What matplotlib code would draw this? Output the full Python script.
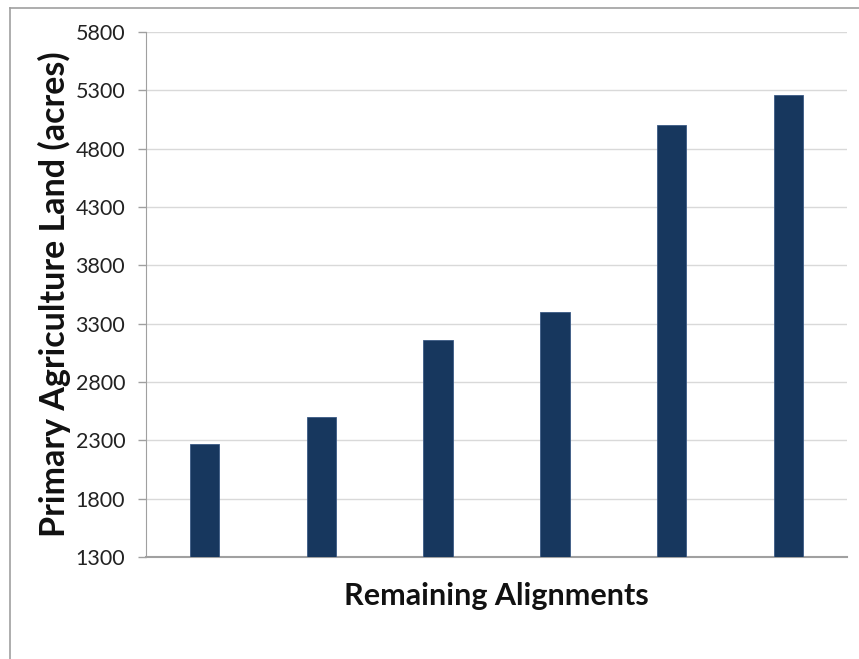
import matplotlib.pyplot as plt
from matplotlib.lines import Line2D

# data
alignments = ['A', 'B', 'C', 'D', 'E', 'F']
acres = [2270, 2500, 3160, 3400, 5000, 5260]
yticks = [1300, 1800, 2300, 2800, 3300, 3800, 4300, 4800, 5300, 5800]

plt.rcParams['font.family'] = ['Lato', 'DejaVu Sans']

fig = plt.figure(figsize=(8.59, 6.59), dpi=100)
ax = fig.add_axes([0.170, 0.1548, 0.816, 0.7966])

x = range(len(alignments))
ax.bar(x, acres, width=0.25, color='#17375E', edgecolor='#3b5a85', linewidth=0.6, zorder=3)

ax.set_ylim(1300, 5800)
ax.set_xlim(-0.5, len(alignments) - 0.5)
ax.set_yticks(yticks)
ax.set_yticklabels([str(t) for t in yticks], fontsize=15.5, color='#222222')
ax.set_xticks([])
ax.yaxis.grid(True, color='#d9d9d9', linewidth=1, zorder=0)
ax.tick_params(axis='y', length=6, width=1, color='#a0a0a0', pad=9)

for s in ['top', 'right']:
    ax.spines[s].set_visible(False)
ax.spines['left'].set_color('#a0a0a0')
ax.spines['bottom'].set_color('#a0a0a0')
ax.spines['bottom'].set_linewidth(1.5)

ax.set_ylabel('Primary Agriculture Land (acres)', fontsize=24.5, fontweight='bold',
              color='#111111', labelpad=3)
ax.set_xlabel('Remaining Alignments', fontsize=22, fontweight='bold',
              color='#111111', labelpad=18)

# outer frame (top and left edges)
fig.add_artist(Line2D([10 / 859, 1], [1 - 8 / 659, 1 - 8 / 659], color='#a0a0a0', linewidth=1.2))
fig.add_artist(Line2D([10 / 859, 10 / 859], [0, 1 - 8 / 659], color='#a0a0a0', linewidth=1.2))

fig.savefig('out.png', dpi=100)
